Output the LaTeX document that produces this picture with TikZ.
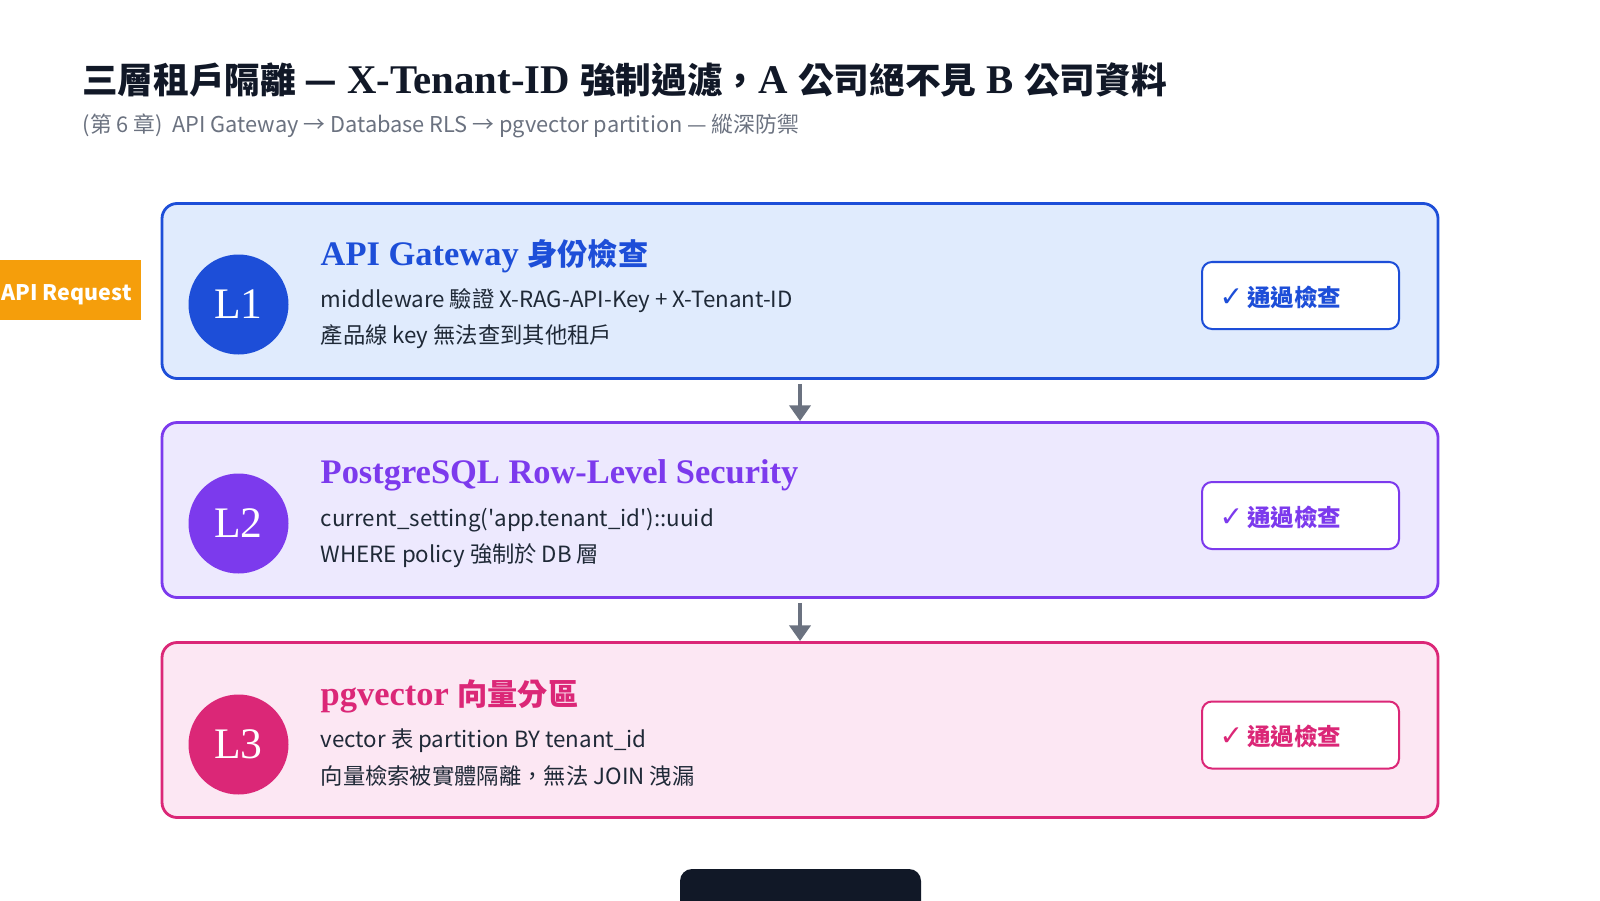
\documentclass[tikz,border=0pt]{standalone}
\usepackage{fontspec}
\setmainfont{Liberation Serif}
\newfontfamily\cjk{Noto Sans CJK TC}
\newfontfamily\symb{DejaVu Sans}
\usepackage{tikz}
\usetikzlibrary{arrows.meta, positioning}
\definecolor{inkDark}{HTML}{111827}
\definecolor{inkBody}{HTML}{1F2937}
\definecolor{inkGray}{HTML}{6B7280}
\definecolor{reqOrange}{HTML}{F59E0B}
\definecolor{lyrBlue}{HTML}{1D4ED8}
\definecolor{lyrBlueBg}{HTML}{E0EBFD}
\definecolor{lyrViolet}{HTML}{7C3AED}
\definecolor{lyrVioletBg}{HTML}{EDE9FE}
\definecolor{lyrPink}{HTML}{DB2777}
\definecolor{lyrPinkBg}{HTML}{FCE7F3}
% CJK runs inside the serif title / headings
\newcommand\tcjk[1]{{\cjk\fontsize{10.15}{12}\selectfont #1}}
\newcommand\hcjk[1]{{\cjk\fontsize{8.6}{11}\selectfont #1}}

\begin{document}
\begin{tikzpicture}[
    layer/.style={draw=#1, line width=0.8pt, rounded corners=4.3pt,
                  minimum width=12.76cm, minimum height=1.75cm, inner sep=0},
    badge/.style={circle, fill=#1, minimum size=1.0cm, inner sep=0,
                  text=white, font=\fontsize{12.4}{14}\selectfont},
    head/.style={anchor=west, inner sep=0, text=#1,
                 font=\fontsize{9.8}{11}\selectfont\bfseries},
    body/.style={anchor=west, inner sep=0, text=inkBody,
                 font=\cjk\fontsize{6.35}{8}\selectfont},
    pass/.style={draw=#1, line width=0.57pt, fill=white, rounded corners=2.8pt,
                 minimum width=1.97cm, minimum height=0.67cm, inner sep=0},
    passtxt/.style={anchor=west, inner sep=0, text=#1,
                    font=\cjk\bfseries\fontsize{6.7}{8}\selectfont},
    arr/.style={-{Triangle[length=4.5pt, width=6pt]}, line width=1.1pt, draw=inkGray}]
\useasboundingbox (0,0) rectangle (16,9);
\fill[white] (0,0) rectangle (16,9);

% Title
\node[anchor=west, inner sep=0, text=inkDark,
      font=\fontsize{11.6}{13}\selectfont\bfseries] (title) at (0.815, 8.205)
   {\tcjk{三層租戶隔離 —} X-Tenant-ID \tcjk{強制過濾，}A \tcjk{公司絕不見} B \tcjk{公司資料}};
\node[anchor=west, inner sep=0, text=inkGray,
      font=\cjk\fontsize{6.2}{8}\selectfont] (subtitle) at (0.82, 7.745)
   {(第 6 章)\ \ API Gateway → Database RLS → pgvector partition — 縱深防禦};

% LAYER 1
\node[layer=lyrBlue, fill=lyrBlueBg] (l1) at (8, 6.09) {};
\node[badge=lyrBlue] (b1) at (2.385, 5.955) {L1};
\node[head=lyrBlue] (h1) at (3.20, 6.44) {API Gateway \hcjk{身份檢查}};
\node[body] (t1a) at (3.20, 5.99) {middleware 驗證 X-RAG-API-Key + X-Tenant-ID};
\node[body] (t1b) at (3.20, 5.63) {產品線 key 無法查到其他租戶};
\node[pass=lyrBlue] (p1) at (13.005, 6.045) {};
\node[passtxt=lyrBlue] (q1) at (12.19, 6.03) {{\symb\mdseries\fontsize{8}{8}\selectfont ✓}\,通過檢查};

% LAYER 2
\node[layer=lyrViolet, fill=lyrVioletBg] (l2) at (8, 3.90) {};
\node[badge=lyrViolet] (b2) at (2.385, 3.765) {L2};
\node[head=lyrViolet] (h2) at (3.20, 4.245) {PostgreSQL Row-Level Security};
\node[body] (t2a) at (3.20, 3.80)
   {current\_setting(\textquotesingle app.tenant\_id\textquotesingle)::uuid};
\node[body] (t2b) at (3.20, 3.44) {WHERE policy 強制於 DB 層};
\node[pass=lyrViolet] (p2) at (13.005, 3.845) {};
\node[passtxt=lyrViolet] (q2) at (12.19, 3.83) {{\symb\mdseries\fontsize{8}{8}\selectfont ✓}\,通過檢查};

% LAYER 3
\node[layer=lyrPink, fill=lyrPinkBg] (l3) at (8, 1.70) {};
\node[badge=lyrPink] (b3) at (2.385, 1.555) {L3};
\node[head=lyrPink] (h3) at (3.20, 2.04) {pgvector \hcjk{向量分區}};
\node[body] (t3a) at (3.20, 1.59) {vector 表 partition BY tenant\_id};
\node[body] (t3b) at (3.20, 1.245) {向量檢索被實體隔離，無法 JOIN 洩漏};
\node[pass=lyrPink] (p3) at (13.005, 1.65) {};
\node[passtxt=lyrPink] (q3) at (12.19, 1.635) {{\symb\mdseries\fontsize{8}{8}\selectfont ✓}\,通過檢查};

% Flow arrows
\foreach \a/\b in {l1/l2, l2/l3}
   \draw[arr] ([yshift=-0.4mm]\a.south) -- (\b.north);

% Request tag
\node[fill=reqOrange, minimum width=1.6cm, minimum height=0.6cm,
      inner sep=0] (req) at (0.61, 6.10) {};
\node[anchor=base west, inner sep=0, text=white,
      font=\cjk\bfseries\fontsize{6.1}{8}\selectfont] (reqtxt) at (0.01, 6.00)
   {API Request};

% Footer bar (cut off)
\node[fill=inkDark, rounded corners=3.4pt, minimum width=2.41cm,
      minimum height=0.62cm, inner sep=0] (foot) at (8.005, 0.0) {};

\end{tikzpicture}
\end{document}
